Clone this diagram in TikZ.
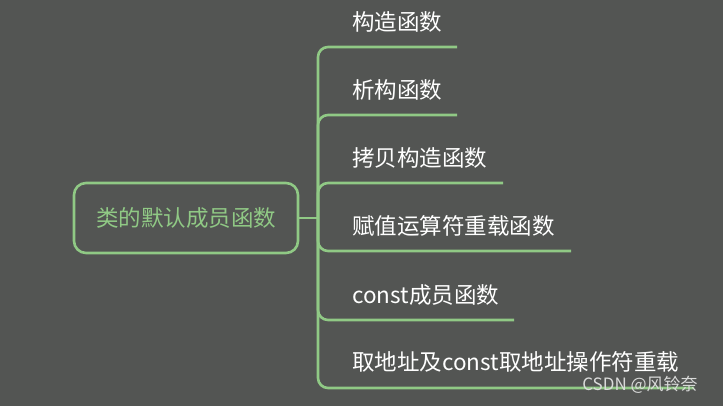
\documentclass[tikz,border=0pt]{standalone}
\usepackage{fontspec}
\setmainfont{Noto Sans CJK SC}
\usetikzlibrary{positioning}
\definecolor{bgGray}{HTML}{535553}
\definecolor{mapGreen}{HTML}{90C985}
\tikzset{
rootbox/.style={draw=mapGreen, line width=2.6pt, rounded corners=12pt,
    minimum width=224pt, minimum height=70pt, text=mapGreen,
    font=\fontsize{22.5}{26}\selectfont},
leaf/.style={anchor=west, inner sep=0pt, text=white,
    font=\fontsize{22.5}{26}\selectfont},
branch/.style={draw=mapGreen, line width=2.6pt, rounded corners=10pt},
wmark/.style={text=white!78!bgGray, font=\fontsize{17}{20}\selectfont}
}

\begin{document}
\begin{tikzpicture}[x=1pt,y=-1pt]
    \fill[bgGray] (0,0) rectangle (723,406);
    \useasboundingbox (0,0) rectangle (723,406);
    \node[rootbox] (root) at (186,218) {类的默认成员函数};
    \draw[branch] (root.east) -- (318,218) coordinate (trunk);
    % leaves and their underlines
    \node[leaf] (ctor) at (352,22) {构造函数};
    \node[leaf] (dtor) at (352,90) {析构函数};
    \node[leaf] (copy) at (352,158) {拷贝构造函数};
    \node[leaf] (assign) at (352,226) {赋值运算符重载函数};
    \node[leaf] (cmem) at (352,295) {const成员函数};
    \node[leaf] (addr) at (352,362) {取地址及const取地址操作符重载};
    \coordinate (ctorEnd) at (457,47);
    \coordinate (dtorEnd) at (457,115);
    \coordinate (copyEnd) at (503,183);
    \coordinate (assignEnd) at (571,251);
    \coordinate (cmemEnd) at (514,320);
    \coordinate (addrEnd) at (694,388);
    \foreach \leafname in {ctor,dtor,copy,assign,cmem,addr}
        \draw[branch] (trunk) |- (\leafname End);
    \node[wmark] (mark) at (640,385) {CSDN @风铃奈};
\end{tikzpicture}
\end{document}
